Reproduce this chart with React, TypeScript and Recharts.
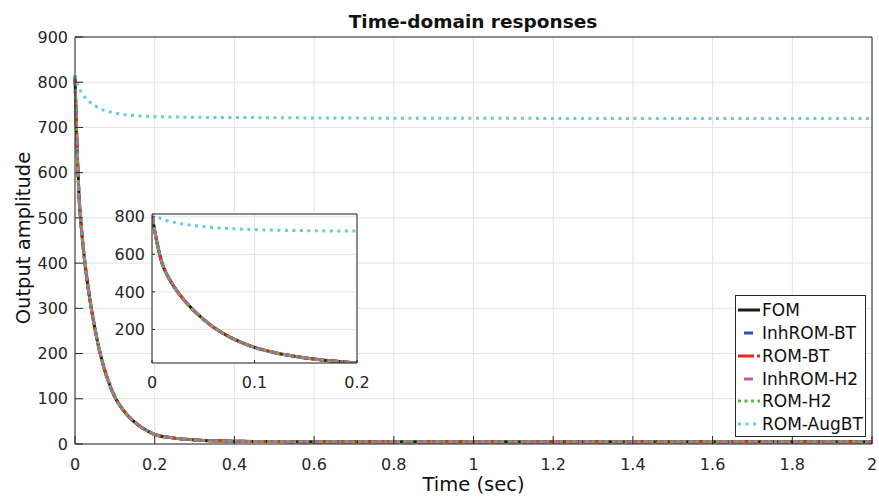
import { LineChart, Line, XAxis, YAxis, CartesianGrid, Legend } from "recharts";

// sample times (sec) and responses
const time = [0, 0.0025, 0.005, 0.01, 0.015, 0.02, 0.03, 0.04, 0.05, 0.06, 0.07, 0.08, 0.1, 0.12, 0.14, 0.16, 0.18, 0.2, 0.25, 0.3, 0.35, 0.4, 0.5, 0.6, 0.8, 1.0, 1.2, 1.4, 1.6, 1.8, 2.0];
const fom = [814, 730, 660, 550, 488, 440, 365, 305, 255, 212, 177, 148, 104, 76, 56, 41, 30, 21, 13, 9, 7, 6, 5.5, 5, 5, 5, 5, 5, 5, 5, 5];
// the reduced models sit on top of the FOM curve at this resolution
const inhRomBT = [814, 730, 660, 550, 488, 440, 365, 305, 255, 212, 177, 148, 104, 76, 56, 41, 30, 21, 13, 9, 7, 6, 5.5, 5, 5, 5, 5, 5, 5, 5, 5];
const romBT = [814, 730, 660, 550, 488, 440, 365, 305, 255, 212, 177, 148, 104, 76, 56, 41, 30, 21, 13, 9, 7, 6, 5.5, 5, 5, 5, 5, 5, 5, 5, 5];
const inhRomH2 = [814, 730, 660, 550, 488, 440, 365, 305, 255, 212, 177, 148, 104, 76, 56, 41, 30, 21, 13, 9, 7, 6, 5.5, 5, 5, 5, 5, 5, 5, 5, 5];
const romH2 = [814, 730, 660, 550, 488, 440, 365, 305, 255, 212, 177, 148, 104, 76, 56, 41, 30, 21, 13, 9, 7, 6, 5.5, 5, 5, 5, 5, 5, 5, 5, 5];
const romAugBT = [815, 806, 799, 788, 779, 772, 762, 754, 748, 743, 739, 736, 732, 729, 727, 725.5, 724.5, 724, 723, 722.5, 722, 722, 721.5, 721, 720.5, 720.5, 720, 720, 720, 720, 720];

const xTicks = [0, 0.2, 0.4, 0.6, 0.8, 1, 1.2, 1.4, 1.6, 1.8, 2];
const yTicks = [0, 100, 200, 300, 400, 500, 600, 700, 800, 900];
const insetXTicks = [0, 0.1, 0.2];
const insetYTicks = [200, 400, 600, 800];

const rows = time.map((t, i) => ({
  t,
  fom: fom[i],
  inhRomBT: inhRomBT[i],
  romBT: romBT[i],
  inhRomH2: inhRomH2[i],
  romH2: romH2[i],
  romAugBT: romAugBT[i],
}));
const insetRows = rows.filter((r) => r.t <= 0.2);

const SERIES = [
  { key: "fom", name: "FOM", color: "#1a1a1a", dash: undefined as string | undefined },
  { key: "inhRomBT", name: "InhROM-BT", color: "#3553a6", dash: "10 5" },
  { key: "romBT", name: "ROM-BT", color: "#f22222", dash: "10 4 3 4" },
  { key: "inhRomH2", name: "InhROM-H2", color: "#c257a8", dash: "10 5" },
  { key: "romH2", name: "ROM-H2", color: "#62b246", dash: "3 3.5" },
  { key: "romAugBT", name: "ROM-AugBT", color: "#66cce0", dash: "3 4.5" },
];

const FONT = "DejaVu Sans";
const AXIS = "#262626";
const GRID = "#e3e3e3";
const tickStyle = { fill: AXIS, fontSize: 16, fontFamily: FONT };

function LegendSample({ i, color }: { i: number; color: string }) {
  const common = { stroke: color, strokeWidth: 3 };
  if (i === 0) return <line x1={0} y1={4} x2={22} y2={4} {...common} />;
  if (i === 1 || i === 3) return <line x1={6} y1={4} x2={15} y2={4} {...common} />;
  if (i === 2)
    return (
      <>
        <line x1={0} y1={4} x2={16} y2={4} {...common} />
        <line x1={19} y1={4} x2={22} y2={4} {...common} />
      </>
    );
  return <line x1={0} y1={4} x2={22} y2={4} {...common} strokeDasharray={i === 4 ? "3 3.5" : "3 4.5"} />;
}

function LegendBox() {
  return (
    <div
      style={{
        position: "relative",
        width: 129,
        height: 140,
        border: `1px solid ${AXIS}`,
        background: "#fff",
        fontFamily: FONT,
        fontSize: 17,
        color: "#111",
      }}
    >
      {SERIES.map((s, i) => (
        <div key={s.key} style={{ position: "absolute", left: 0, top: 14 + i * 22.85 - 10, height: 20, width: 129 }}>
          <svg width={24} height={8} style={{ position: "absolute", left: 2, top: 6 }}>
            <LegendSample i={i} color={s.color} />
          </svg>
          <span style={{ position: "absolute", left: 26, top: 0, lineHeight: "20px", whiteSpace: "nowrap" }}>{s.name}</span>
        </div>
      ))}
    </div>
  );
}

function lines() {
  return SERIES.map((s) => (
    <Line
      key={s.key}
      dataKey={s.key}
      name={s.name}
      type="monotone"
      stroke={s.color}
      strokeWidth={3}
      strokeDasharray={s.dash}
      dot={false}
      activeDot={false}
      isAnimationActive={false}
    />
  ));
}

export default function App() {
  return (
    <div style={{ position: "absolute", left: 0, top: 0, width: 879, height: 503, background: "#fff", fontFamily: FONT }}>
      <div style={{ position: "absolute", left: 0, top: 0 }}>
        <LineChart width={879} height={503} data={rows} margin={{ top: 36, right: 6, bottom: 29, left: 35 }}>
          <CartesianGrid stroke={GRID} />
          <XAxis
            dataKey="t"
            type="number"
            domain={[0, 2]}
            ticks={xTicks}
            height={30}
            stroke={AXIS}
            tickSize={-8}
            tickMargin={22.5}
            tick={tickStyle}
            interval={0}
          />
          <XAxis xAxisId="top" orientation="top" type="number" domain={[0, 2]} ticks={xTicks} height={1} stroke={AXIS} tickSize={-8} tick={false} interval={0} />
          <YAxis type="number" domain={[0, 900]} ticks={yTicks} width={40} stroke={AXIS} tickSize={-8} tickMargin={15} tick={tickStyle} interval={0} />
          <YAxis yAxisId="right" orientation="right" type="number" domain={[0, 900]} ticks={yTicks} width={1} stroke={AXIS} tickSize={-8} tick={false} interval={0} />
          {lines()}
          <Legend
            layout="vertical"
            align="center"
            verticalAlign="middle"
            content={() => <LegendBox />}
            wrapperStyle={{ left: 735, top: 295, width: 131, height: 142 }}
          />
        </LineChart>
      </div>

      <div style={{ position: "absolute", left: 112, top: 204 }}>
        <LineChart width={275} height={189} data={insetRows} margin={{ top: 9, right: 29, bottom: 0, left: 0 }}>
          <CartesianGrid stroke={GRID} fill="#ffffff" />
          <XAxis
            dataKey="t"
            type="number"
            domain={[0, 0.2]}
            allowDataOverflow
            ticks={insetXTicks}
            height={30}
            stroke={AXIS}
            tickSize={-3}
            tickMargin={17}
            tick={tickStyle}
            interval={0}
          />
          <XAxis xAxisId="top" orientation="top" type="number" domain={[0, 0.2]} allowDataOverflow ticks={insetXTicks} height={1} stroke={AXIS} tickSize={-3} tick={false} interval={0} />
          <YAxis type="number" domain={[21, 815]} allowDataOverflow ticks={insetYTicks} width={40} stroke={AXIS} tickSize={-3} tickMargin={10} tick={tickStyle} interval={0} />
          <YAxis yAxisId="right" orientation="right" type="number" domain={[21, 815]} allowDataOverflow ticks={insetYTicks} width={1} stroke={AXIS} tickSize={-3} tick={false} interval={0} />
          {lines()}
        </LineChart>
      </div>

      <div style={{ position: "absolute", left: 73, width: 800, top: 11.5, textAlign: "center", fontSize: 18.5, fontWeight: "bold", lineHeight: "19px", color: "#111" }}>
        Time-domain responses
      </div>
      <div style={{ position: "absolute", left: 75, width: 797, top: 475, textAlign: "center", fontSize: 19.5, lineHeight: "19.5px", color: "#111" }}>
        Time (sec)
      </div>
      <div
        style={{
          position: "absolute",
          left: 23.5 - 150,
          top: 238 - 10,
          width: 300,
          height: 20,
          lineHeight: "20px",
          textAlign: "center",
          fontSize: 19.5,
          color: "#111",
          transform: "rotate(-90deg)",
        }}
      >
        Output amplitude
      </div>
    </div>
  );
}
